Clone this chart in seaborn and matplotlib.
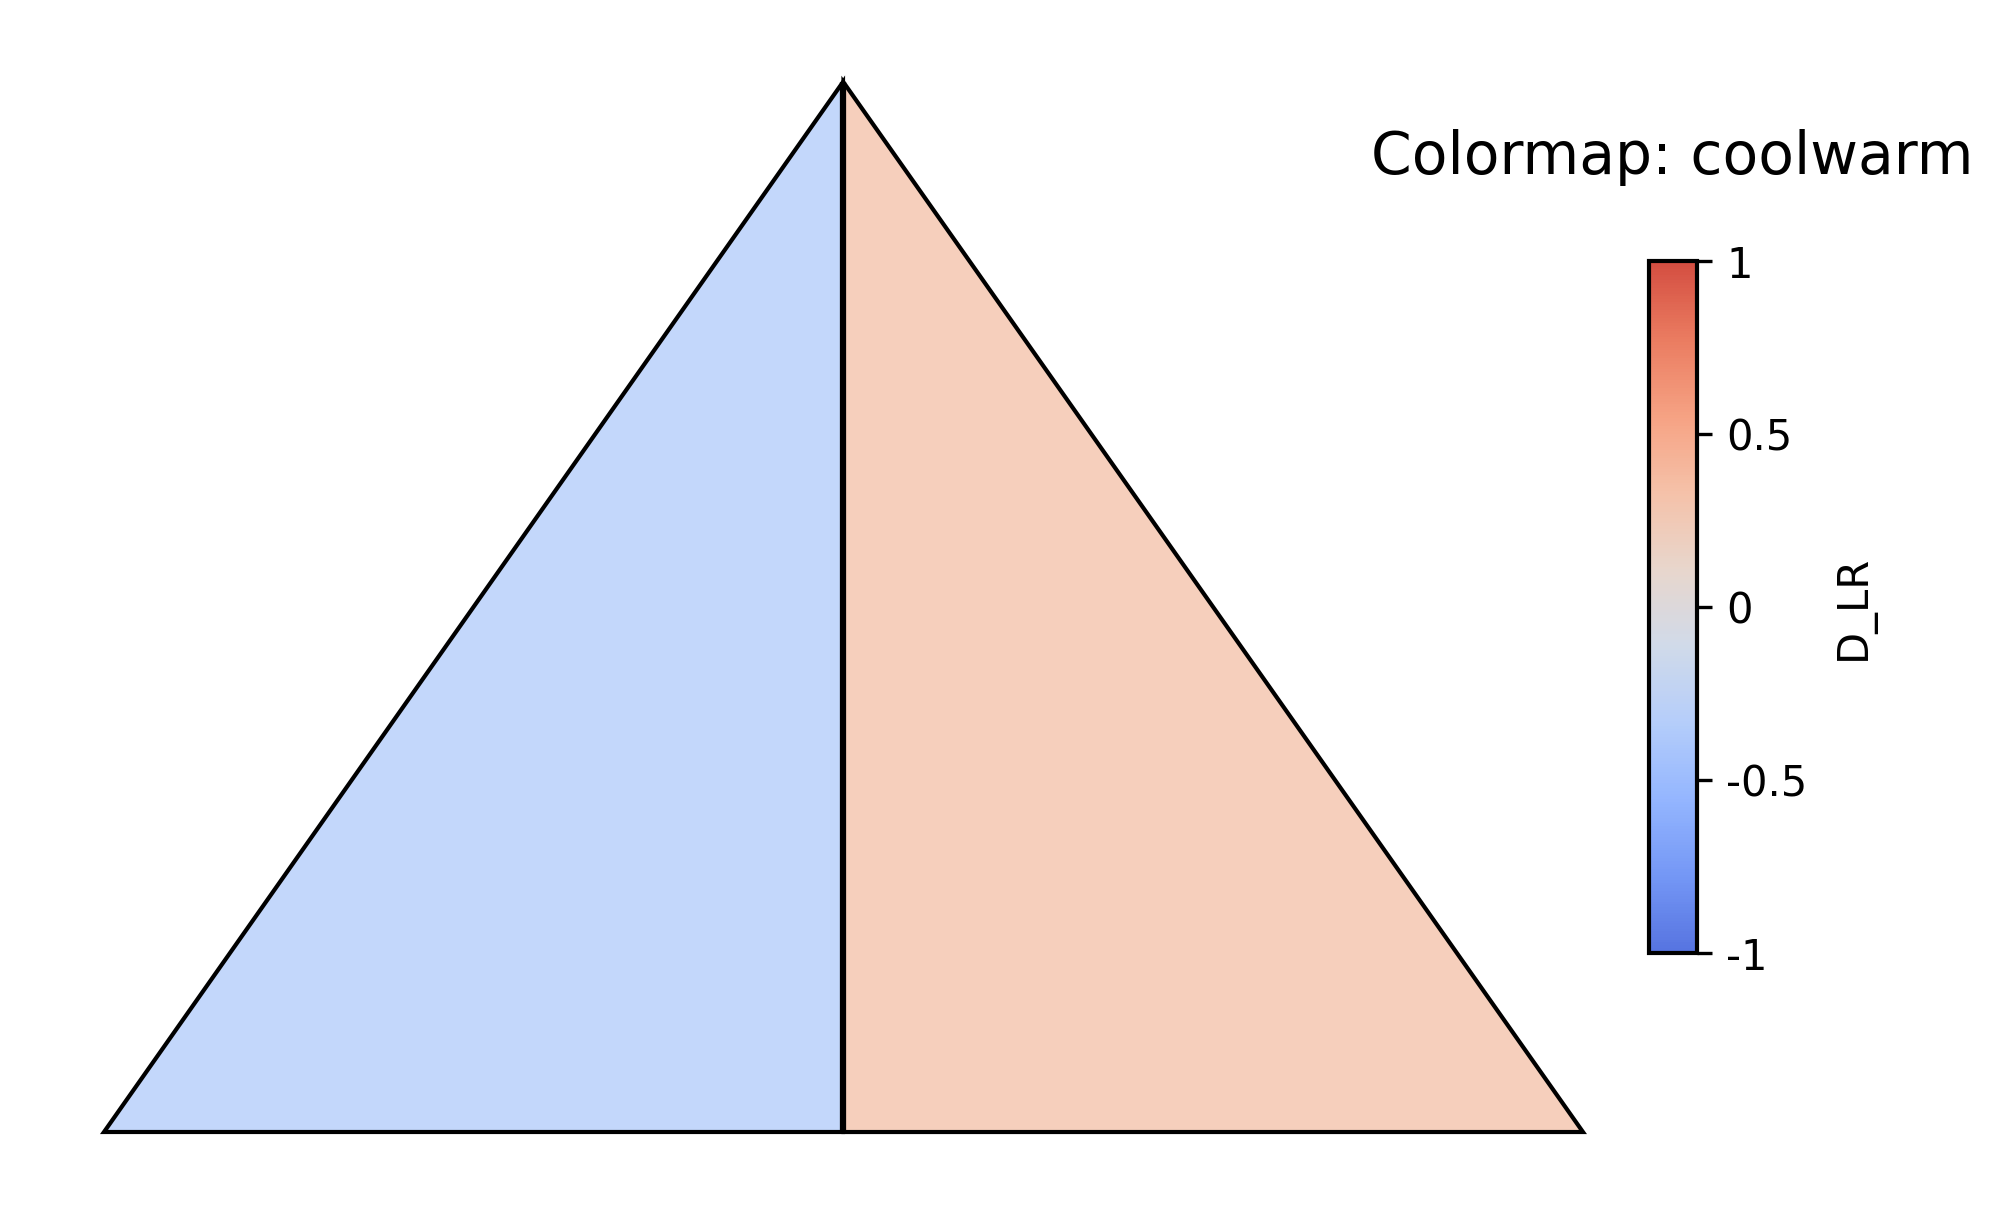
import numpy as np
import seaborn as sns
import matplotlib.pyplot as plt
from matplotlib.colors import Normalize, LinearSegmentedColormap, to_rgba
from matplotlib.cm import ScalarMappable

# regions of the split triangle and their D_LR values
regions = ['left', 'right']
values = [-0.33, 0.32]
# corners of each half (x, y) in triangle units
region_x = [[0.0, 0.5, 0.5], [0.5, 1.0, 0.5]]
region_y = [[0.0, 0.0, 1.0], [0.0, 0.0, 1.0]]
cbar_ticks = [-1, -0.5, 0, 0.5, 1]
cbar_labels = ['-1', '-0.5', '0', '0.5', '1']

sns.set_style('white')
plt.rcParams.update({'text.color': 'black', 'ytick.color': 'black',
                     'axes.labelcolor': 'black'})

# seaborn palette (drops the darkest ends) turned into a smooth colormap
pal = sns.color_palette('coolwarm', 10)
cmap = LinearSegmentedColormap.from_list('cw', pal)
norm = Normalize(vmin=-1, vmax=1)

fig = plt.figure(figsize=(6.68, 4.05), dpi=300)
ax = fig.add_axes([0.0519, 0.0683, 0.738, 0.864])
for name, v, xs, ys in zip(regions, values, region_x, region_y):
    face = to_rgba(cmap(norm(v)), alpha=0.8)
    ax.fill(xs, ys, facecolor=face, edgecolor='black', linewidth=1.0, clip_on=False)
# shared edge between the two halves
ax.plot(region_x[0][1:], region_y[0][1:], color='black', linewidth=1.5,
        solid_capstyle='butt', clip_on=False)
ax.set_xlim(0, 1)
ax.set_ylim(0, 1)
ax.axis('off')

# Colorbar
cax = fig.add_axes([0.8229, 0.2156, 0.0240, 0.5695])
sm = ScalarMappable(norm=norm, cmap=cmap)
cb = fig.colorbar(sm, cax=cax)
cb.set_ticks(cbar_ticks)
cb.set_ticklabels(cbar_labels)
cb.outline.set_linewidth(1.0)
cb.outline.set_edgecolor('black')
cax.tick_params(length=3.5, width=0.8, labelsize=10, color='black')
cb.set_label('D_LR', fontsize=10, labelpad=6)

fig.text(0.8347, 0.87, 'Colormap: coolwarm', ha='center', va='center', fontsize=14)

plt.savefig('out.png', dpi=300)
